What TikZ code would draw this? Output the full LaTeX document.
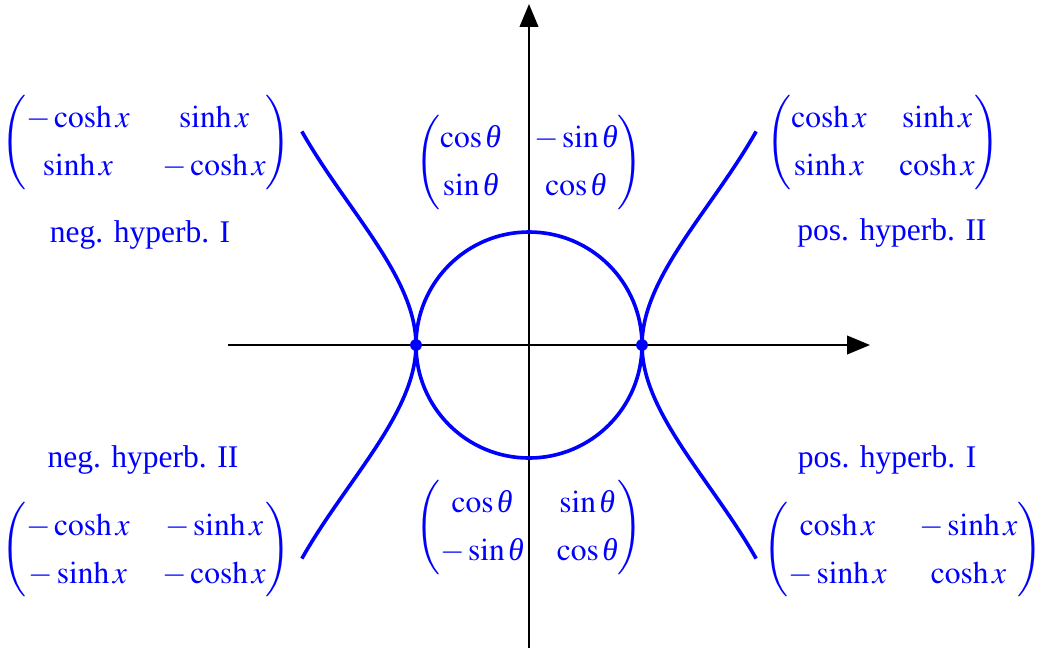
\documentclass[tikz,border=0pt]{standalone}
\usepackage{amsmath}
\usepackage{mathptmx}
\usepackage[no-math]{fontspec}
\setmainfont{Liberation Serif}
\usetikzlibrary{arrows.meta}
\newcommand{\thet}{\text{\itshape θ}}
\renewcommand{\arraystretch}{1.28}
\begin{document}
\begin{tikzpicture}[x=1.21cm,y=1.21cm,
  axis/.style={line width=0.8pt,-{Triangle[length=7pt,width=5.6pt]}},
  curve/.style={blue,line width=1.1pt},
  lbl/.style={text=blue,inner sep=0pt,font=\fontsize{9.6}{11.4}\selectfont},
  dot/.style={circle,fill=blue,inner sep=0pt,minimum size=3.6pt}]
\useasboundingbox (-4.681,-2.681) rectangle (4.504,3.053);
% axes
\coordinate (xl) at (-2.664,0);
\coordinate (xr) at (3.018,0);
\coordinate (yb) at (0,-2.69);
\coordinate (yt) at (0,3.018);
\draw[axis] (xl) -- (xr);
\draw[axis] (yb) -- (yt);
% circle
\coordinate (O) at (0,0);
\draw[curve] (O) circle (1);
% vertices
\node[dot] (pr) at (1,0) {};
\node[dot] (pl) at (-1,0) {};
% hyperbola ends
\coordinate (ur) at (2.01,1.89);
\coordinate (lr) at (2.01,-1.89);
\coordinate (ul) at (-2.01,1.89);
\coordinate (ll) at (-2.01,-1.89);
\draw[curve] (pr.center) .. controls (1,0.6) and (1.62,1.2) .. (ur);
\draw[curve] (pr.center) .. controls (1,-0.6) and (1.62,-1.2) .. (lr);
\draw[curve] (pl.center) .. controls (-1,0.6) and (-1.62,1.2) .. (ul);
\draw[curve] (pl.center) .. controls (-1,-0.6) and (-1.62,-1.2) .. (ll);
% labels
\node[lbl] (mUL) at (-3.389,1.796) {$\begin{pmatrix}-\cosh x & \sinh x\\ \sinh x & -\cosh x\end{pmatrix}$};
\node[lbl] (tUL) at (-3.442,0.973) {neg. hyperb. I};
\node[lbl] (mUC) at (0,1.619) {$\begin{pmatrix}\cos\thet & -\sin\thet\\ \sin\thet & \cos\thet\end{pmatrix}$};
\node[lbl] (mUR) at (3.133,1.796) {$\begin{pmatrix}\cosh x & \sinh x\\ \sinh x & \cosh x\end{pmatrix}$};
\node[lbl] (tUR) at (3.212,0.991) {pos. hyperb. II};
\node[lbl] (tLL) at (-3.416,-1.018) {neg. hyperb. II};
\node[lbl] (mLL) at (-3.389,-1.814) {$\begin{pmatrix}-\cosh x & -\sinh x\\ -\sinh x & -\cosh x\end{pmatrix}$};
\node[lbl] (mLC) at (0,-1.611) {$\begin{pmatrix}\cos\thet & \sin\thet\\ -\sin\thet & \cos\thet\end{pmatrix}$};
\node[lbl] (tLR) at (3.168,-1.018) {pos. hyperb. I};
\node[lbl] (mLR) at (3.31,-1.814) {$\begin{pmatrix}\cosh x & -\sinh x\\ -\sinh x & \cosh x\end{pmatrix}$};
\end{tikzpicture}
\end{document}
